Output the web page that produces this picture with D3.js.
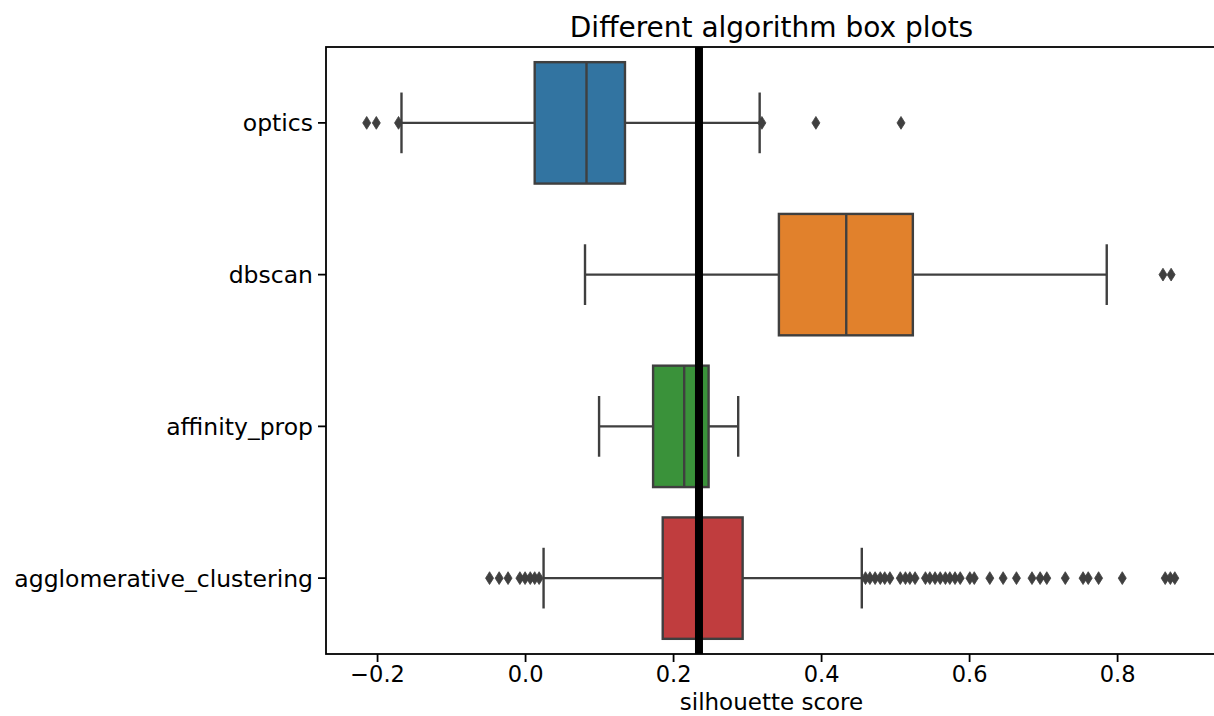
<!DOCTYPE html>
<html>
<head>
<meta charset="utf-8">
<script src="https://cdn.jsdelivr.net/npm/d3@7"></script>
<style>
  html, body { margin: 0; padding: 0; background: #fff; overflow: hidden; }
  svg { display: block; font-family: "DejaVu Sans", sans-serif; }
</style>
</head>
<body>
<svg id="chart" width="1214" height="716"></svg>
<script>
// ---- data ----
const categories = ["optics", "dbscan", "affinity_prop", "agglomerative_clustering"];
const colors = ["#3274a1", "#e1812c", "#3a923a", "#c03d3e"];
const whiskerLow  = [-0.167, 0.081, 0.100, 0.025];
const q1          = [0.013, 0.343, 0.173, 0.186];
const median      = [0.083, 0.434, 0.215, 0.237];
const q3          = [0.135, 0.524, 0.248, 0.294];
const whiskerHigh = [0.317, 0.786, 0.288, 0.455];
const outliersOptics = [-0.214, -0.201, -0.171, 0.320, 0.393, 0.508];
const outliersDbscan = [0.862, 0.873];
const outliersAffinity = [];
const outliersAgglomerative = [
  -0.048, -0.035, -0.023, -0.007, 0.000, 0.007, 0.013, 0.019,
  0.460, 0.466, 0.473, 0.480, 0.486, 0.493, 0.507, 0.514, 0.520, 0.527,
  0.541, 0.547, 0.554, 0.561, 0.568, 0.574, 0.581, 0.588, 0.601, 0.607,
  0.628, 0.646, 0.664, 0.685, 0.696, 0.705, 0.730, 0.754, 0.761, 0.775,
  0.807, 0.865, 0.872, 0.878
];
const outliers = [outliersOptics, outliersDbscan, outliersAffinity, outliersAgglomerative];
const referenceLine = 0.235;
const xTicks = [-0.2, 0.0, 0.2, 0.4, 0.6, 0.8];
const xDomain = [-0.269, 0.935];
const chartTitle = "Different algorithm box plots";
const xLabel = "silhouette score";

// ---- layout ----
const mLeft = 326, mRight = 1217, mTop = 47, mBottom = 654;
const edge = "#3f3f3f";
const svg = d3.select("#chart");

const x = d3.scaleLinear().domain(xDomain).range([mLeft, mRight]);
const y = d3.scaleBand().domain(categories).range([mTop, mBottom]).padding(0);
const bw = y.bandwidth() * 0.8;
const capW = bw * 0.5;

const rows = categories.map((c, i) => ({
  cat: c, color: colors[i], lo: whiskerLow[i], q1: q1[i], med: median[i],
  q3: q3[i], hi: whiskerHigh[i], out: outliers[i]
}));

const plot = svg.append("g");

const g = plot.selectAll("g.row").data(rows).enter().append("g").attr("class", "row")
  .attr("transform", d => `translate(0,${y(d.cat) + y.bandwidth() / 2})`);

const lw = 2.4;
// whiskers
g.append("line").attr("x1", d => x(d.lo)).attr("x2", d => x(d.q1)).attr("y1", 0).attr("y2", 0)
  .attr("stroke", edge).attr("stroke-width", lw);
g.append("line").attr("x1", d => x(d.q3)).attr("x2", d => x(d.hi)).attr("y1", 0).attr("y2", 0)
  .attr("stroke", edge).attr("stroke-width", lw);
// caps
g.append("line").attr("x1", d => x(d.lo)).attr("x2", d => x(d.lo)).attr("y1", -capW / 2).attr("y2", capW / 2)
  .attr("stroke", edge).attr("stroke-width", lw);
g.append("line").attr("x1", d => x(d.hi)).attr("x2", d => x(d.hi)).attr("y1", -capW / 2).attr("y2", capW / 2)
  .attr("stroke", edge).attr("stroke-width", lw);
// box
g.append("rect").attr("x", d => x(d.q1)).attr("width", d => x(d.q3) - x(d.q1))
  .attr("y", -bw / 2).attr("height", bw)
  .attr("fill", d => d.color).attr("stroke", edge).attr("stroke-width", lw);
// median
g.append("line").attr("x1", d => x(d.med)).attr("x2", d => x(d.med)).attr("y1", -bw / 2).attr("y2", bw / 2)
  .attr("stroke", edge).attr("stroke-width", lw);
// fliers (thin diamonds)
const dh = 6.4, dw = 4.0;
g.selectAll("path.flier").data(d => d.out).enter().append("path").attr("class", "flier")
  .attr("d", v => `M${x(v)},${-dh} L${x(v) + dw},0 L${x(v)},${dh} L${x(v) - dw},0 Z`)
  .attr("fill", edge).attr("stroke", edge).attr("stroke-width", 0.8);

// reference line
plot.append("line").attr("x1", x(referenceLine)).attr("x2", x(referenceLine))
  .attr("y1", mTop).attr("y2", mBottom).attr("stroke", "#000").attr("stroke-width", 8);

// axes
const xAxis = d3.axisBottom(x).tickValues(xTicks).tickSize(8).tickPadding(2)
  .tickFormat(d => d3.format(".1f")(d).replace("-", "\u2212"));
const gx = svg.append("g").attr("transform", `translate(0,${mBottom})`).call(xAxis);
gx.select(".domain").remove();
gx.selectAll(".tick line").attr("stroke", "#000").attr("stroke-width", 1.8);
gx.selectAll(".tick text").attr("font-size", "22.5px").attr("fill", "#000")
  .attr("font-family", "DejaVu Sans").attr("dy", "0.78em");

const yAxis = d3.axisLeft(y).tickSize(8).tickPadding(5);
const gy = svg.append("g").attr("transform", `translate(${mLeft},0)`).call(yAxis);
gy.select(".domain").remove();
gy.selectAll(".tick line").attr("stroke", "#000").attr("stroke-width", 1.8);
gy.selectAll(".tick text").attr("font-size", "23.5px").attr("fill", "#000")
  .attr("font-family", "DejaVu Sans").attr("dy", "0.36em");

// frame (right spine falls just outside the picture)
svg.append("rect").attr("x", mLeft).attr("y", mTop).attr("width", mRight + 6 - mLeft).attr("height", mBottom - mTop)
  .attr("fill", "none").attr("stroke", "#000").attr("stroke-width", 1.8);

// title & label
svg.append("text").attr("x", (mLeft + mRight) / 2).attr("y", 37).attr("text-anchor", "middle")
  .attr("font-size", "28px").attr("fill", "#000").text(chartTitle);
svg.append("text").attr("x", (mLeft + mRight) / 2).attr("y", 709.5).attr("text-anchor", "middle")
  .attr("font-size", "23px").attr("fill", "#000").text(xLabel);
</script>
</body>
</html>
